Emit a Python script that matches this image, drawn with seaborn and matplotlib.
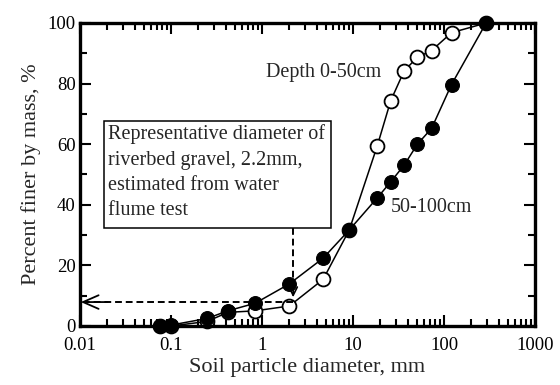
import numpy as np
import pandas as pd
import matplotlib
matplotlib.use("Agg")
import matplotlib.pyplot as plt
import matplotlib.patches as mpatches
import seaborn as sns
from matplotlib.ticker import FixedLocator, LogLocator, NullFormatter

sns.set_theme(style="ticks")
plt.rcParams['font.family'] = ['Liberation Serif', 'DejaVu Serif']

# Data
diam_shallow = [0.075, 0.1, 0.25, 0.42, 0.84, 2.0, 4.7, 9.1, 18.5, 26.0, 36.5, 51.0, 73.0, 121.0, 290.0]
pct_shallow = [0.0, 0.0, 1.5, 4.5, 5.0, 6.6, 15.4, 31.7, 59.5, 74.4, 84.2, 88.7, 90.9, 96.8, 100.0]
diam_deep = [0.075, 0.1, 0.25, 0.42, 0.84, 2.0, 4.7, 9.1, 18.5, 26.0, 36.5, 51.0, 73.0, 121.0, 290.0]
pct_deep = [0.0, 0.3, 2.5, 5.0, 7.5, 13.9, 22.4, 31.7, 42.3, 47.6, 53.1, 60.0, 65.2, 79.7, 100.0]
x_ticks = [0.01, 0.1, 1, 10, 100, 1000]
x_ticklabels = ["0.01", "0.1", "1", "10", "100", "1000"]
y_ticks = [0, 20, 40, 60, 80, 100]
rep_diam = 2.2
rep_pct = 7.9
box_text = "Representative diameter of\nriverbed gravel, 2.2mm,\nestimated from water\nflume test"

df_s = pd.DataFrame({"d": diam_shallow, "p": pct_shallow})
df_d = pd.DataFrame({"d": diam_deep, "p": pct_deep})

fig = plt.figure(figsize=(5.6, 3.85), dpi=100)
ax = fig.add_axes([80/560, 1-326/385, 455/560, 303/385])

sns.lineplot(data=df_s, x="d", y="p", ax=ax, sort=False, color="black", lw=1.1,
             marker="o", markersize=10, markerfacecolor="white", markeredgecolor="black",
             markeredgewidth=1.3, zorder=3, clip_on=False)
sns.lineplot(data=df_d, x="d", y="p", ax=ax, sort=False, color="black", lw=1.1,
             marker="o", markersize=10, markerfacecolor="black", markeredgecolor="black",
             zorder=4, clip_on=False)

ax.set_xscale("log")
ax.set_xlim(0.01, 1000)
ax.set_ylim(0, 100)
ax.xaxis.set_major_locator(FixedLocator(x_ticks))
ax.set_xticklabels(x_ticklabels)
ax.xaxis.set_minor_locator(LogLocator(base=10, subs=np.arange(2, 10)))
ax.xaxis.set_minor_formatter(NullFormatter())
ax.yaxis.set_major_locator(FixedLocator(y_ticks))
ax.yaxis.set_minor_locator(FixedLocator([10, 30, 50, 70, 90]))
ax.tick_params(which="both", direction="in", top=True, right=True, width=1.5, colors="black",
               labelsize=13.5)
ax.tick_params(axis="x", pad=8)
ax.tick_params(axis="y", pad=3)
ax.tick_params(which="major", length=8)
ax.tick_params(which="minor", length=5)
for s in ax.spines.values():
    s.set_linewidth(2.4)
    s.set_color("black")
    s.set_zorder(6)

ax.set_xlabel("Soil particle diameter, mm", fontsize=16, labelpad=3)
ax.set_ylabel("Percent finer by mass, %", fontsize=16, labelpad=5)

# Annotation box
box = mpatches.Rectangle((0.0185, 32.3), 5.7 - 0.0185, 67.7 - 32.3, transform=ax.transData,
                         fc="white", ec="black", lw=1.1, zorder=5)
ax.add_patch(box)
ax.text(0.0203, 66.5, box_text, fontsize=14.5, va="top", ha="left", linespacing=1.45, zorder=6)

# Dashed guide lines
ax.plot([rep_diam, rep_diam], [32.3, 10.5], ls=(0, (3.5, 2)), lw=1.4, color="black", zorder=6)
ax.plot([rep_diam, 0.0115], [rep_pct, rep_pct], ls=(0, (3.5, 2)), lw=1.4, color="black", zorder=6)
ax.annotate("", xy=(rep_diam, 9.5), xytext=(rep_diam, 14),
            arrowprops=dict(arrowstyle="->,head_length=0.6,head_width=0.3", lw=1.2, color="black",
                            shrinkA=0, shrinkB=0, mutation_scale=10), zorder=6)
ax.annotate("", xy=(0.0102, rep_pct), xytext=(0.02, rep_pct),
            arrowprops=dict(arrowstyle="->,head_length=0.8,head_width=0.35", lw=1.3, color="black",
                            shrinkA=0, shrinkB=0, mutation_scale=14), zorder=6)

ax.text(1.1, 83.5, "Depth 0-50cm", fontsize=14.5, ha="left", va="center")
ax.text(26.0, 39.0, "50-100cm", fontsize=14.5, ha="left", va="center")

fig.savefig("out.png", dpi=100)
